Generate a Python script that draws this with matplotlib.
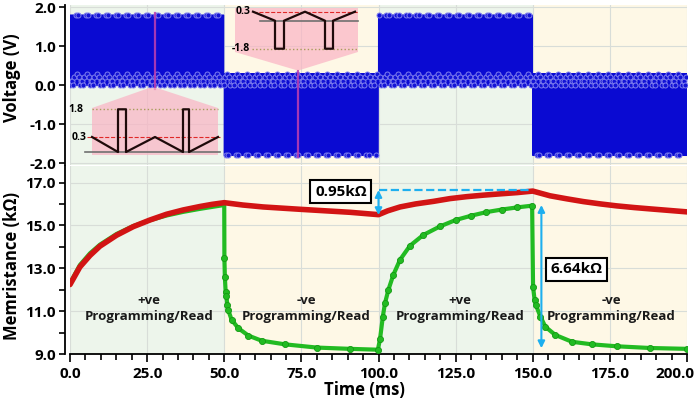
import matplotlib
matplotlib.use("Agg")
import matplotlib.pyplot as plt
import matplotlib.transforms as mtransforms
import numpy as np
from matplotlib.patches import Polygon

plt.rcParams['font.family'] = ['Open Sans', 'DejaVu Sans']
plt.rcParams['font.weight'] = 'bold'
plt.rcParams['axes.labelweight'] = 'bold'

# ---- voltage programme (top panel) ----
seg_edges = [0, 50, 100, 150, 200]
seg_sign = [1, -1, 1, -1]
pulse_period = 0.25  # ms
period_phase = [0.00, 0.04, 0.24, 0.28, 0.40, 0.52, 0.64, 0.76, 0.88]
period_pos = [0.0, 1.8, 1.8, 0.0, 0.1, 0.2, 0.3, 0.2, 0.1]
period_neg = [0.0, -1.8, -1.8, 0.0, 0.1, 0.2, 0.3, 0.2, 0.1]
callout_t = [27.6, 73.9]
callout_v = [(-0.1, 1.85), (-1.85, 0.36)]

# zoomed insets (schematic)
inset_pos_x = [0, 2.6, 2.6, 3.4, 3.4, 6.3, 9.1, 9.1, 9.7, 9.7, 12.6]
inset_pos_v = [0.3, 0, 1.8, 1.8, 0, 0.3, 0, 1.8, 1.8, 0, 0.3]
inset_neg_x = [1.8, 4.0, 4.0, 4.9, 4.9, 7.0, 9.0, 9.0, 9.8, 9.8, 12.0]
inset_neg_v = [0.3, 0, -1.8, -1.8, 0, 0.3, 0, -1.8, -1.8, 0, 0.3]

# ---- memristance (bottom panel) ----
red_t = [0, 3.2, 6.5, 9.7, 15.1, 20.5, 25.9, 31.3, 36.7, 42.1, 46.0, 50.0,
         56.0, 62.6, 74.6, 90.8, 100.0,
         103.0, 107.0, 112.0, 117.8, 123.2, 128.6, 134.0, 139.4, 145.0, 150.0,
         155.6, 161.0, 166.4, 172.0, 177.2, 183.0, 188.0, 194.0, 200.0]
red_R = [12.24, 13.06, 13.6, 14.03, 14.54, 14.94, 15.25, 15.52, 15.72, 15.88, 15.98, 16.06,
         15.95, 15.86, 15.75, 15.61, 15.5,
         15.68, 15.86, 16.0, 16.12, 16.25, 16.34, 16.41, 16.47, 16.53, 16.6,
         16.38, 16.24, 16.11, 16.0, 15.91, 15.83, 15.77, 15.7, 15.63]

green_t = [0, 3.2, 6.5, 9.7, 15.1, 20.5, 25.9, 31.3, 36.7, 42.1, 46.0, 50.0,
           50.05, 50.2, 50.45, 50.7, 51.0, 51.3, 52.4, 54.6, 57.8, 62.1, 69.7, 80.0, 90.8, 99.8,
           100.5, 101.4, 102.1, 103.2, 104.8, 107.0, 110.2, 114.5, 119.9, 125.0, 130.0, 135.0,
           140.0, 145.0, 149.8,
           150.1, 150.6, 151.0, 152.5, 154.1, 157.3, 162.7, 169.2, 177.2, 188.0, 200.0]
green_R = [12.3, 13.15, 13.7, 14.1, 14.6, 14.97, 15.24, 15.46, 15.63, 15.77, 15.86, 15.95,
           13.46, 12.58, 11.91, 11.71, 11.29, 11.05, 10.59, 10.2, 9.86, 9.62, 9.45, 9.3, 9.24, 9.2,
           9.7, 10.74, 11.37, 11.99, 12.69, 13.4, 14.05, 14.55, 14.95, 15.25, 15.45, 15.62,
           15.74, 15.84, 15.92,
           12.14, 11.52, 11.29, 10.74, 10.27, 9.89, 9.57, 9.45, 9.36, 9.28, 9.24]

phase_labels = ["+ve\nProgramming/Read", "-ve\nProgramming/Read",
                "+ve\nProgramming/Read", "-ve\nProgramming/Read"]
phase_label_t = [25.5, 76.5, 126.5, 175.5]
bg_colors = ['#EDF5EB', '#FEF8E6', '#EDF5EB', '#FEF8E6']

W, H = 699, 404


def px_box(l, t, r, b):
    return [l / W, 1 - b / H, (r - l) / W, (b - t) / H]


def px_pt(x, y):
    return (x / W, 1 - y / H)


fig = plt.figure(figsize=(W / 100, H / 100), dpi=100)
ax_v = fig.add_axes(px_box(70, 5, 687, 165))
ax_r = fig.add_axes(px_box(70, 166, 687, 354))

for ax in (ax_v, ax_r):
    for i in range(4):
        ax.axvspan(seg_edges[i], seg_edges[i + 1], color=bg_colors[i], lw=0, zorder=0)
    ax.set_axisbelow(True)
    ax.grid(True, color='#D8DDD8', lw=0.8)
    ax.set_xlim(0, 200)
    ax.set_xticks(np.arange(0, 201, 25))
    for s in ('top', 'right'):
        ax.spines[s].set_visible(False)
    ax.spines['left'].set_position(('outward', 3.6))
    ax.spines['left'].set_linewidth(1.3)
    ax.tick_params(axis='y', direction='out', length=4, width=1.2, pad=2.5, labelsize=11)
    ax.set_facecolor('white')

# top panel waveform
t_all, v_all = [], []
for i in range(4):
    n = int(round((seg_edges[i + 1] - seg_edges[i]) / pulse_period))
    shape = period_pos if seg_sign[i] > 0 else period_neg
    k = np.repeat(np.arange(n), len(period_phase))
    ph = np.tile(period_phase, n)
    t_all.append(seg_edges[i] + (k + ph) * pulse_period)
    v_all.append(np.tile(shape, n))
t_all = np.concatenate(t_all)
v_all = np.concatenate(v_all)
ax_v.plot(t_all, v_all, color='#0A0AD2', lw=0.8, zorder=2)
ax_v.plot(t_all[::13], v_all[::13], 'o', ms=3.6, mfc='#1414D6', mec='#8080EE',
          mew=0.7, zorder=3)
for tc, (v0, v1) in zip(callout_t, callout_v):
    ax_v.plot([tc, tc], [v0, v1], color='#C040B0', lw=1.6, alpha=0.85, zorder=4)

ax_v.set_ylim(-2.044, 2.059)
ax_v.set_yticks([-2, -1, 0, 1, 2])
ax_v.set_yticklabels(['-2.0', '-1.0', '0.0', '1.0', '2.0'])
ax_v.spines['bottom'].set_visible(False)
ax_v.tick_params(axis='x', bottom=False, labelbottom=False)
ax_v.set_ylabel('Voltage (V)', fontsize=12)
ax_v.yaxis.set_label_coords(-0.08, 0.544)

# pink callouts
pink = (0.98, 0.70, 0.77, 0.7)
fig.add_artist(Polygon([px_pt(149, 88), px_pt(157, 88), px_pt(218, 108), px_pt(92, 108)],
                       closed=True, transform=fig.transFigure, fc=pink, ec='none', zorder=4))
fig.add_artist(Polygon([px_pt(235, 52), px_pt(358, 52), px_pt(300, 70), px_pt(296, 70)],
                       closed=True, transform=fig.transFigure, fc=pink, ec='none', zorder=4))


def make_inset(box, vals, pos, xs, vs, xlim, levels, labels):
    ins = fig.add_axes(box, zorder=5)
    ins.set_facecolor(pink)
    fwd = lambda v: np.interp(v, vals, pos)
    inv = lambda p: np.interp(p, pos, vals)
    ins.set_yscale('function', functions=(fwd, inv))
    ins.set_ylim(vals[0], vals[-1])
    ins.set_xlim(*xlim)
    for s in ins.spines.values():
        s.set_visible(False)
    ins.set_xticks([])
    ins.set_yticks([])
    for (lv, x0, x1, col, ls, lw) in levels:
        ins.plot([x0, x1], [lv, lv], color=col, ls=ls, lw=lw, clip_on=False)
    ins.plot(xs, vs, color='#1E0A0A', lw=1.6, clip_on=False)
    for (txt, x, y) in labels:
        ins.text(x, y, txt, ha='right', va='center', fontsize=7.5, color='black',
                 clip_on=False)
    return ins


make_inset(px_box(92, 108, 218, 155), [-0.1, 0.0, 0.3, 1.8, 1.83], [0, 3, 18, 45.7, 47],
           inset_pos_x, inset_pos_v, (0, 12.6),
           [(1.8, 0, 12.6, '#A89C5A', ':', 1.0),
            (0.3, -0.5, 12.8, '#E02828', '--', 0.8),
            (0.0, -0.7, 12.8, '#707070', '-', 1.2)],
           [('1.8', -0.9, 1.8), ('0.3', -0.6, 0.3)])
make_inset(px_box(235, 8, 358, 52), [-2.0, -1.8, 0.0, 0.3, 0.55], [0, 3.3, 31.3, 40.3, 44],
           inset_neg_x, inset_neg_v, (0, 12.3),
           [(0.3, 1.8, 12.3, '#E02828', '--', 0.8),
            (0.0, 2.5, 12.3, '#707070', '-', 1.2),
            (-1.8, 1.7, 12.3, '#A89C5A', ':', 1.0)],
           [('0.3', 1.5, 0.3), ('-1.8', 1.5, -1.8)])

# bottom panel
n_first = 12  # points of the first segment, hidden under the red curve
ax_r.plot(green_t, green_R, '-o', color='#22BB22', lw=3.0, ms=4.4, mfc='#22BB22',
          mec='#139913', mew=0.6, markevery=list(range(n_first, len(green_t))), zorder=3)
ax_r.plot(red_t, red_R, '-', color='#D21414', lw=4.0, solid_capstyle='round', zorder=4)

ax_r.set_ylim(9.0, 17.77)
ax_r.set_yticks([9, 11, 13, 15, 17])
ax_r.set_yticklabels(['9.0', '11.0', '13.0', '15.0', '17.0'])
ax_r.set_yticks([10, 12, 14, 16], minor=True)
ax_r.tick_params(axis='y', which='minor', direction='out', length=4, width=1.2)
ax_r.set_xticks(np.arange(0, 201, 5), minor=True)
ax_r.set_xticklabels(['%.1f' % v for v in np.arange(0, 201, 25)])
ax_r.tick_params(axis='x', which='major', direction='out', length=6, width=1.2,
                 pad=3, labelsize=11)
ax_r.tick_params(axis='x', which='minor', direction='out', length=4, width=1.2)
ax_r.spines['bottom'].set_linewidth(1.3)
ax_r.set_ylabel('Memristance (kΩ)', fontsize=12)
ax_r.yaxis.set_label_coords(-0.08, 0.468)
ax_r.set_xlabel('Time (ms)', fontsize=12)
ax_r.xaxis.set_label_coords(0.478, -0.145)
# last tick label pulled inside the figure, as in the original
last = ax_r.get_xticklabels()[-1]
last.set_transform(last.get_transform() +
                   mtransforms.ScaledTranslation(-12 / 100, 0, fig.dpi_scale_trans))

for txt, tx in zip(phase_labels, phase_label_t):
    ax_r.text(tx, 11.12, txt, ha='center', va='center', fontsize=9.5, color='#1A1A1A',
              linespacing=1.3, zorder=6)

arrow_c = '#1EAFEF'
ax_r.plot([100, 149.6], [16.65, 16.65], color=arrow_c, ls='--', lw=1.6, zorder=5)
ax_r.annotate('', xy=(100, 16.65), xytext=(100, 15.48),
              arrowprops=dict(arrowstyle='<|-|>', color=arrow_c, lw=1.5,
                              mutation_scale=10, shrinkA=0, shrinkB=0), zorder=5)
ax_r.annotate('', xy=(152.8, 15.95), xytext=(152.8, 9.27),
              arrowprops=dict(arrowstyle='<|-|>', color=arrow_c, lw=1.5,
                              mutation_scale=10, shrinkA=0, shrinkB=0), zorder=5)
box = dict(boxstyle='square,pad=0.3', fc='white', ec='black', lw=1.5)
ax_r.text(87.8, 16.58, '0.95kΩ', ha='center', va='center', fontsize=11, bbox=box, zorder=7)
ax_r.text(164.1, 12.96, '6.64kΩ', ha='center', va='center', fontsize=11, bbox=box, zorder=7)

fig.savefig('out.png', dpi=100)
